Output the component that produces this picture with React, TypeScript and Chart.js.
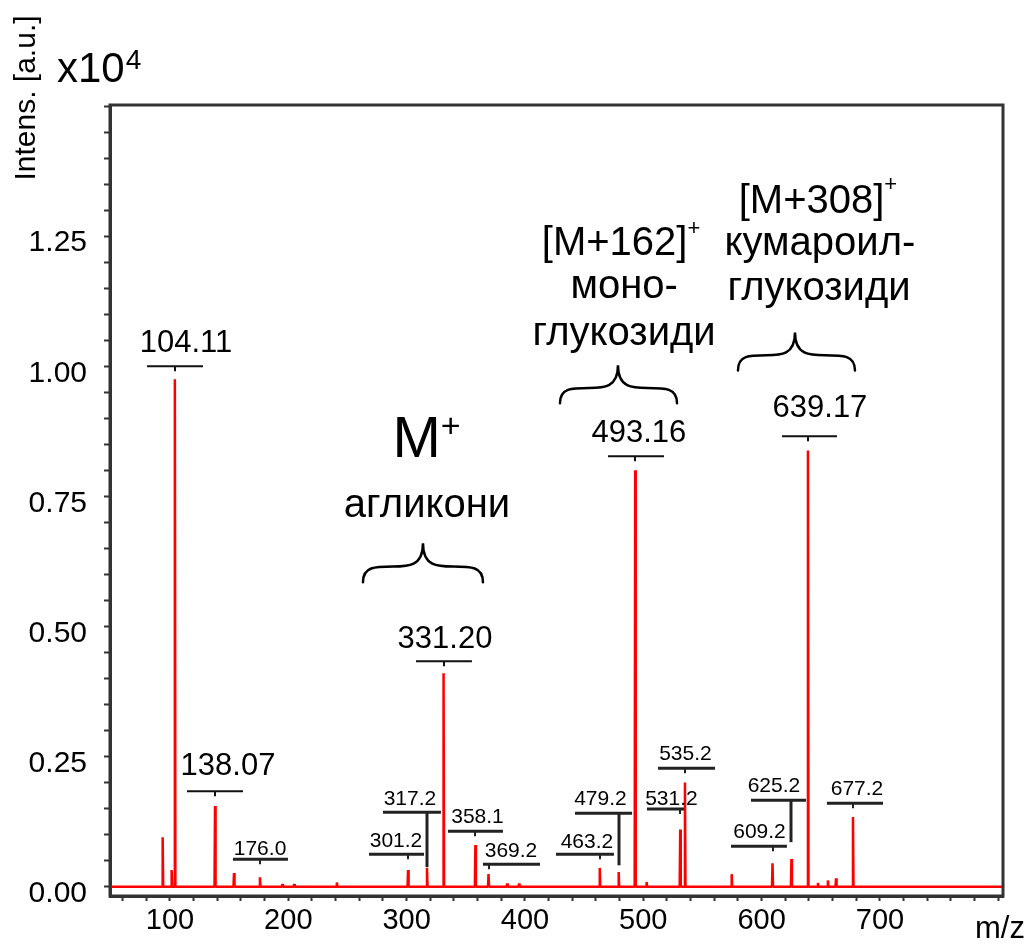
import { useEffect, useRef } from 'react';
import { Chart, registerables } from 'chart.js';

Chart.register(...registerables);

const FONT = '"Liberation Sans", Arial, Helvetica, sans-serif';

// ---- data ----
const peakMz = [93.8, 101.4, 104.11, 138.07, 154.1, 176.0, 195.0, 205.0, 241.0, 301.2, 317.2, 331.2, 358.1, 369.2, 385.0, 395.0, 463.2, 479.2, 493.16, 502.8, 531.2, 535.2, 574.7, 609.2, 625.2, 639.17, 647.6, 656.0, 662.9, 677.2];
const peakIntensity = [0.095, 0.032, 0.975, 0.155, 0.026, 0.018, 0.005, 0.005, 0.008, 0.032, 0.036, 0.41, 0.08, 0.024, 0.006, 0.006, 0.036, 0.028, 0.8, 0.009, 0.11, 0.2, 0.024, 0.045, 0.053, 0.838, 0.007, 0.012, 0.016, 0.134];

const labelTexts = ['104.11', '138.07', '176.0', '301.2', '317.2', '331.20', '358.1', '369.2', '463.2', '479.2', '493.16', '531.2', '535.2', '609.2', '625.2', '639.17', '677.2'];
const labelMz = [104.11, 138.07, 176.0, 301.2, 317.2, 331.2, 358.1, 369.2, 463.2, 479.2, 493.16, 531.2, 535.2, 609.2, 625.2, 639.17, 677.2];

const xTickLabels = [100, 200, 300, 400, 500, 600, 700];
const yTickLabels = [0, 0.25, 0.5, 0.75, 1.0, 1.25];

const X_MIN = 49.3;
const X_MAX = 804;
const Y_MIN = -0.018;
const Y_MAX = 1.502;

// ---- annotation layout (data coordinates) ----
// tx,ty: text centre / baseline; l,r,ly: bracket line; stem: end of connector (null = short tick)
const labelLayout = [
  { big: true, tx: 113.5, ty: 1.027, l: 80.6, r: 127.9, ly: 1.0, stem: null },
  { big: true, tx: 149.0, ty: 0.2141, l: 114.4, r: 161.7, ly: 0.1835, stem: null },
  { big: false, tx: 176.1, ty: 0.0605, l: 153.2, r: 199.7, ly: 0.0528, stem: null },
  { big: false, tx: 291.0, ty: 0.0759, l: 268.2, r: 314.7, ly: 0.0624, stem: null },
  { big: false, tx: 302.8, ty: 0.1566, l: 280.0, r: 329.0, ly: 0.1431, stem: 0.0375 },
  { big: true, tx: 332.4, ty: 0.4582, l: 307.9, r: 355.2, ly: 0.4332, stem: null },
  { big: false, tx: 359.9, ty: 0.122, l: 334.9, r: 381.4, ly: 0.1066, stem: null },
  { big: false, tx: 388.2, ty: 0.0567, l: 364.5, r: 412.7, ly: 0.0432, stem: null },
  { big: false, tx: 452.4, ty: 0.074, l: 426.2, r: 475.2, ly: 0.0624, stem: null },
  { big: false, tx: 463.8, ty: 0.1566, l: 442.3, r: 490.5, ly: 0.1412, stem: 0.041 },
  { big: true, tx: 496.3, ty: 0.854, l: 470.2, r: 517.5, ly: 0.8271, stem: null },
  { big: false, tx: 523.8, ty: 0.1566, l: 503.1, r: 534.4, ly: 0.149, stem: null },
  { big: false, tx: 535.6, ty: 0.243, l: 512.4, r: 560.6, ly: 0.2277, stem: null },
  { big: false, tx: 598.2, ty: 0.0932, l: 574.1, r: 621.4, ly: 0.0778, stem: null },
  { big: false, tx: 610.4, ty: 0.1816, l: 591.0, r: 637.5, ly: 0.1662, stem: 0.0855 },
  { big: true, tx: 649.3, ty: 0.902, l: 617.2, r: 663.7, ly: 0.8655, stem: null },
  { big: false, tx: 680.6, ty: 0.176, l: 655.2, r: 702.6, ly: 0.1604, stem: null },
];

const groupTexts = [
  { text: 'M', sup: '+', x: 316.8, y: 0.825, size: 58, supSize: 34, raise: 20 },
  { text: 'агликони', x: 317.2, y: 0.71, size: 40 },
  { text: '[M+162]', sup: '+', x: 481.2, y: 1.213, size: 40, supSize: 22, raise: 20 },
  { text: 'моно-', x: 483.8, y: 1.131, size: 40 },
  { text: 'глукозиди', x: 483.8, y: 1.04, size: 40 },
  { text: '[M+308]', sup: '+', x: 647.6, y: 1.294, size: 40, supSize: 22, raise: 22 },
  { text: 'кумароил-', x: 649.3, y: 1.213, size: 40 },
  { text: 'глукозиди', x: 648.5, y: 1.127, size: 40 },
];

const braces = [
  { l: 263.1, r: 364.5, c: 313.8, top: 0.66, bottom: 0.585 },
  { l: 429.6, r: 528.5, c: 478.6, top: 1.002, bottom: 0.929 },
  { l: 580.0, r: 678.9, c: 628.2, top: 1.065, bottom: 0.992 },
];

function buildSpectrum() {
  const idx = peakMz.map((_, i) => i).sort((a, b) => peakMz[a] - peakMz[b]);
  const pts: { x: number; y: number }[] = [{ x: X_MIN, y: 0 }];
  const hw = 0.45;
  idx.forEach((i) => {
    pts.push({ x: peakMz[i] - hw, y: 0 });
    pts.push({ x: peakMz[i], y: peakIntensity[i] });
    pts.push({ x: peakMz[i] + hw, y: 0 });
  });
  pts.push({ x: X_MAX, y: 0 });
  return pts;
}

const annotationPlugin = {
  id: 'msAnnotations',
  afterDatasetsDraw(chart: any) {
    const { ctx } = chart;
    const xs = chart.scales.x;
    const ys = chart.scales.y;
    const px = (v: number) => xs.getPixelForValue(v);
    const py = (v: number) => ys.getPixelForValue(v);
    ctx.save();

    // peak labels
    labelLayout.forEach((lay, i) => {
      const size = lay.big ? 31 : 21;
      ctx.fillStyle = '#000';
      ctx.font = `${size}px ${FONT}`;
      ctx.textAlign = 'center';
      ctx.textBaseline = 'alphabetic';
      ctx.fillText(labelTexts[i], px(lay.tx), py(lay.ty));
      ctx.strokeStyle = lay.big ? '#111' : '#222';
      ctx.lineWidth = lay.big ? 2 : 3;
      ctx.lineCap = 'butt';
      const yLine = py(lay.ly);
      ctx.beginPath();
      ctx.moveTo(px(lay.l), yLine);
      ctx.lineTo(px(lay.r), yLine);
      ctx.stroke();
      const xm = Math.round(px(labelMz[i]));
      ctx.beginPath();
      if (lay.stem !== null) {
        ctx.lineWidth = 3;
        ctx.moveTo(xm, yLine);
        ctx.lineTo(xm, py(lay.stem));
      } else {
        ctx.lineWidth = 2;
        ctx.moveTo(xm, yLine);
        ctx.lineTo(xm, yLine + 5);
      }
      ctx.stroke();
    });

    // group texts
    groupTexts.forEach((g: any) => {
      ctx.fillStyle = '#000';
      ctx.textBaseline = 'alphabetic';
      ctx.font = `${g.size}px ${FONT}`;
      const mainW = ctx.measureText(g.text).width;
      let supW = 0;
      if (g.sup) {
        ctx.font = `${g.supSize}px ${FONT}`;
        supW = ctx.measureText(g.sup).width;
      }
      const total = mainW + supW;
      const x0 = px(g.x) - total / 2;
      const y0 = py(g.y);
      ctx.textAlign = 'left';
      ctx.font = `${g.size}px ${FONT}`;
      ctx.fillText(g.text, x0, y0);
      if (g.sup) {
        ctx.font = `${g.supSize}px ${FONT}`;
        ctx.fillText(g.sup, x0 + mainW, y0 - g.raise);
      }
    });

    // braces
    ctx.strokeStyle = '#000';
    ctx.lineWidth = 2.5;
    ctx.lineCap = 'round';
    braces.forEach((b) => {
      const xL = px(b.l), xR = px(b.r), xC = px(b.c);
      const yT = py(b.top), yB = py(b.bottom);
      const yM = yT + (yB - yT) * 0.6;
      ctx.beginPath();
      ctx.moveTo(xL, yB);
      ctx.bezierCurveTo(xL, yM, xL + (xC - xL) * 0.2, yM, (xL + xC) / 2, yM);
      ctx.bezierCurveTo(xC - (xC - xL) * 0.25, yM, xC, yM, xC, yT);
      ctx.bezierCurveTo(xC, yM, xC + (xR - xC) * 0.25, yM, (xC + xR) / 2, yM);
      ctx.bezierCurveTo(xR - (xR - xC) * 0.2, yM, xR, yM, xR, yB);
      ctx.stroke();
    });

    ctx.restore();
  },
  afterDraw(chart: any) {
    const { ctx, chartArea } = chart;
    ctx.save();
    // frame
    ctx.strokeStyle = '#333';
    ctx.lineWidth = 3;
    ctx.strokeRect(chartArea.left, chartArea.top, chartArea.right - chartArea.left, chartArea.bottom - chartArea.top);

    ctx.fillStyle = '#000';
    ctx.textBaseline = 'alphabetic';
    // y axis title
    ctx.save();
    ctx.translate(35, 98);
    ctx.rotate(-Math.PI / 2);
    ctx.font = `30px ${FONT}`;
    ctx.textAlign = 'center';
    ctx.fillText('Intens. [a.u.]', 0, 0);
    ctx.restore();
    // multiplier
    ctx.font = `42px ${FONT}`;
    ctx.textAlign = 'left';
    ctx.fillText('x10', 57, 82);
    const w = ctx.measureText('x10').width;
    ctx.font = `28px ${FONT}`;
    ctx.fillText('4', 57 + w + 1, 69);
    // x axis title
    ctx.font = `31px ${FONT}`;
    ctx.fillText('m/z', 975, 938);
    ctx.restore();
  },
};

export default function App() {
  const ref = useRef<HTMLCanvasElement | null>(null);
  useEffect(() => {
    if (!ref.current) return;
    const xTickVals: number[] = [];
    for (let v = 60; v <= 800; v += 20) xTickVals.push(v);
    const yTickVals: number[] = [];
    for (let i = 0; i <= 30; i++) yTickVals.push(Math.round(i * 5) / 100);

    const chart = new Chart(ref.current, {
      type: 'line',
      data: {
        datasets: [
          {
            data: buildSpectrum(),
            borderColor: 'rgb(255,0,0)',
            borderWidth: 2.5,
            borderJoinStyle: 'bevel',
            pointRadius: 0,
            tension: 0,
            fill: false,
          },
        ],
      },
      options: {
        animation: false,
        responsive: false,
        maintainAspectRatio: false,
        layout: { padding: { left: 0, top: 105, right: 29, bottom: 0 } },
        plugins: { legend: { display: false }, tooltip: { enabled: false }, title: { display: false } },
        scales: {
          x: {
            type: 'linear',
            min: X_MIN,
            max: X_MAX,
            afterBuildTicks: (s: any) => {
              s.ticks = xTickVals.map((v) => ({ value: v }));
            },
            afterFit: (s: any) => {
              s.height = 48;
            },
            grid: { display: true, drawOnChartArea: false, drawTicks: true, tickLength: 5, tickWidth: 2, tickColor: '#333' },
            border: { display: true, width: 3, color: '#333' },
            ticks: {
              autoSkip: false,
              maxRotation: 0,
              padding: 3,
              color: '#000',
              font: { family: FONT, size: 29 },
              callback: (v: any) => (xTickLabels.includes(Number(v)) ? String(v) : ''),
            },
          },
          y: {
            type: 'linear',
            min: Y_MIN,
            max: Y_MAX,
            afterBuildTicks: (s: any) => {
              s.ticks = yTickVals.map((v) => ({ value: v }));
            },
            afterFit: (s: any) => {
              s.width = 110;
            },
            grid: { display: true, drawOnChartArea: false, drawTicks: true, tickLength: 6, tickWidth: 2, tickColor: '#333' },
            border: { display: true, width: 3, color: '#333' },
            ticks: {
              autoSkip: false,
              padding: 17,
              labelOffset: 7,
              color: '#000',
              font: { family: FONT, size: 30 },
              callback: (v: any) => {
                const n = Number(v);
                return yTickLabels.some((t) => Math.abs(t - n) < 1e-6) ? n.toFixed(2) : '';
              },
            },
          },
        },
      },
      plugins: [annotationPlugin],
    } as any);
    return () => chart.destroy();
  }, []);

  return (
    <div style={{ position: 'fixed', left: 0, top: 0, width: 1032, height: 944, background: '#fff' }}>
      <canvas ref={ref} width={1032} height={944} style={{ display: 'block', width: 1032, height: 944 }} />
    </div>
  );
}
